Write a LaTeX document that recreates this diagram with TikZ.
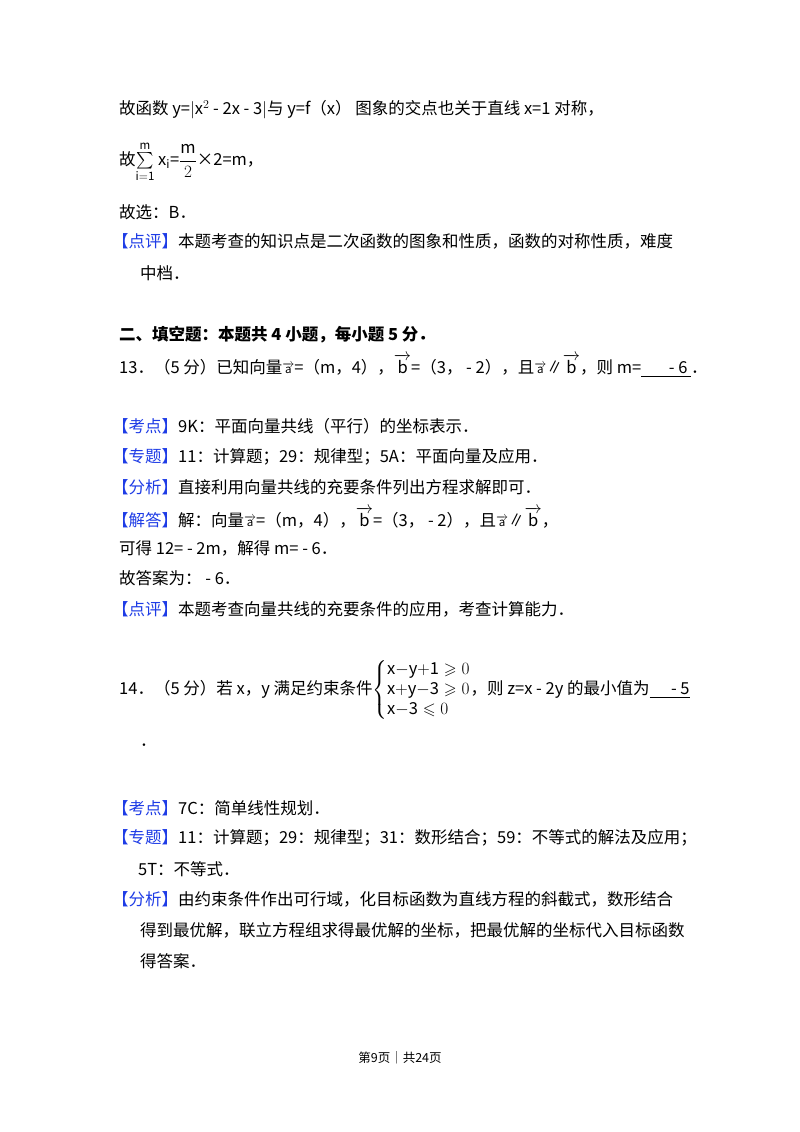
\documentclass[tikz,border=0pt]{standalone}
\usepackage{fontspec}
\usepackage{amsmath,amssymb}
\setmainfont{Noto Sans CJK SC}
\definecolor{kblue}{RGB}{30,60,230}
\begin{document}
\begin{tikzpicture}[x=1pt,y=-1pt,
  t/.style={anchor=west,inner sep=0pt,font=\fontsize{16.5}{20}\selectfont},
  b/.style={text=kblue}]
\useasboundingbox (0,0) rectangle (800,1132);
\fill[white] (0,0) rectangle (800,1132);
\newcommand\K[1]{\textcolor{kblue}{【#1】}}
\newcommand\va{$\scriptstyle\overrightarrow{\mathrm{a}}$}
\newcommand\vb{$\overrightarrow{\mathrm{b}}$}
\node[t] (l1) at (119,110) {故函数 y=$|$x$^2$ - 2x - 3$|$与 y=f（x） 图象的交点也关于直线 x=1 对称，};
\node[t] (l2) at (119,162) {故$\sum\limits_{\mathrm{i=1}}^{\mathrm{m}}$ x$_{\mathrm{i}}$=$\dfrac{\mathrm{m}}{2}$×2=m，};
\node[t] (l3) at (119,212) {故选：B．};
\node[t] (l4) at (112,241) {\K{点评}本题考查的知识点是二次函数的图象和性质，函数的对称性质，难度};
\node[t] (l5) at (140,273) {中档．};
\node[t] (h2) at (119,335) {\bfseries 二、填空题：本题共 4 小题，每小题 5 分．};
\node[t] (q13) at (119,366) {13．（5 分）已知向量\va=（m，4），\vb=（3， - 2），且\va{}∥\vb，则 m=\underline{\makebox[50pt][r]{ - 6 }}．};
\node[t] (k1) at (112,426) {\K{考点}9K：平面向量共线（平行）的坐标表示．};
\node[t] (k2) at (112,457) {\K{专题}11：计算题；29：规律型；5A：平面向量及应用．};
\node[t] (k3) at (112,487) {\K{分析}直接利用向量共线的充要条件列出方程求解即可．};
\node[t] (k4) at (112,518) {\K{解答}解：向量\va=（m，4），\vb=（3， - 2），且\va{}∥\vb，};
\node[t] (k5) at (119,548) {可得 12= - 2m，解得 m= - 6．};
\node[t] (k6) at (119,578) {故答案为： - 6．};
\node[t] (k7) at (112,609) {\K{点评}本题考查向量共线的充要条件的应用，考查计算能力．};
\node[t] (q14) at (119,690) {14．（5 分）若 x，y 满足约束条件$\left\{\begin{array}{@{}l@{}}\mathrm{x{-}y{+}1}\geqslant0\\ \mathrm{x{+}y{-}3}\geqslant0\\ \mathrm{x{-}3}\leqslant0\end{array}\right.$，则 z=x - 2y 的最小值为\underline{\makebox[40pt][r]{ - 5}}};
\node[t] (dot) at (140,745) {．};
\node[t] (m1) at (112,808) {\K{考点}7C：简单线性规划．};
\node[t] (m2) at (112,838) {\K{专题}11：计算题；29：规律型；31：数形结合；59：不等式的解法及应用；};
\node[t] (m3) at (138,869) {5T：不等式．};
\node[t] (m4) at (112,899) {\K{分析}由约束条件作出可行域，化目标函数为直线方程的斜截式，数形结合};
\node[t] (m5) at (140,930) {得到最优解，联立方程组求得最优解的坐标，把最优解的坐标代入目标函数};
\node[t] (m6) at (140,961) {得答案．};
\node[anchor=center,inner sep=0pt,font=\fontsize{12.5}{14}\selectfont] (ft) at (400,1058) {第9页｜共24页};
\end{tikzpicture}
\end{document}
